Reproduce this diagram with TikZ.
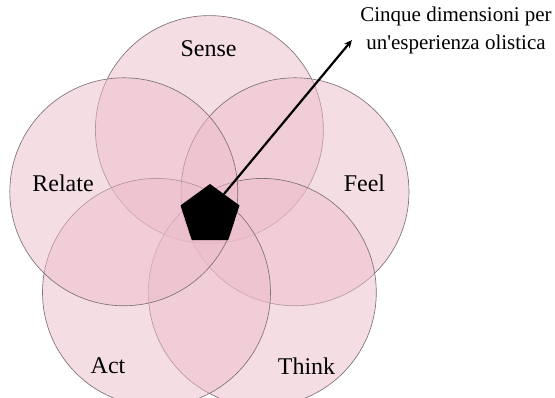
\documentclass[tikz,border=0pt]{standalone}
\usepackage{fontspec}
\setmainfont{Liberation Serif}
\usetikzlibrary{shapes.geometric,arrows.meta,calc}
\definecolor{petal}{RGB}{236,188,202}
\definecolor{rim}{RGB}{125,112,118}
\begin{document}
\begin{tikzpicture}[x=1pt,y=-1pt,
  petalcircle/.style={circle,draw=rim,line width=0.65pt,fill=petal,fill opacity=0.5,
    draw opacity=1,minimum size=228pt,inner sep=0pt},
  dimlabel/.style={font=\fontsize{24}{28}\selectfont,text=black},
  notelabel/.style={font=\fontsize{21}{28}\selectfont,align=center,text=black}]
\useasboundingbox (0,0) rectangle (555,398);
% five overlapping circles around a regular pentagon
\coordinate (o) at (209.4,219.6);
\foreach \name/\ang in {sense/90,feel/18,think/-54,act/-126,relate/162}{
  \node[petalcircle] (\name) at ($(o)+(\ang:90pt)$) {};
}
% labels of the five dimensions
\node[dimlabel] (lsense) at (208.5,49) {Sense};
\node[dimlabel] (lrelate) at (63,183) {Relate};
\node[dimlabel] (lfeel) at (364.5,183) {Feel};
\node[dimlabel] (lact) at (108,366) {Act};
\node[dimlabel] (lthink) at (306.5,366) {Think};
% black pentagon at the common centre
\node[regular polygon,regular polygon sides=5,fill=black,minimum size=62pt,
  inner sep=0pt] (core) at (210,215) {};
% annotation with pointer
\node[notelabel,anchor=north] (note) at (456,3) {Cinque dimensioni per\\un\textquotesingle esperienza olistica};
\coordinate (start) at ($(core.center)+(14,-21)$);
\coordinate (tip) at (352,40);
\draw[line width=2.2pt,-{Stealth[length=8pt,width=7pt]}] (start) -- (tip);
\end{tikzpicture}
\end{document}
